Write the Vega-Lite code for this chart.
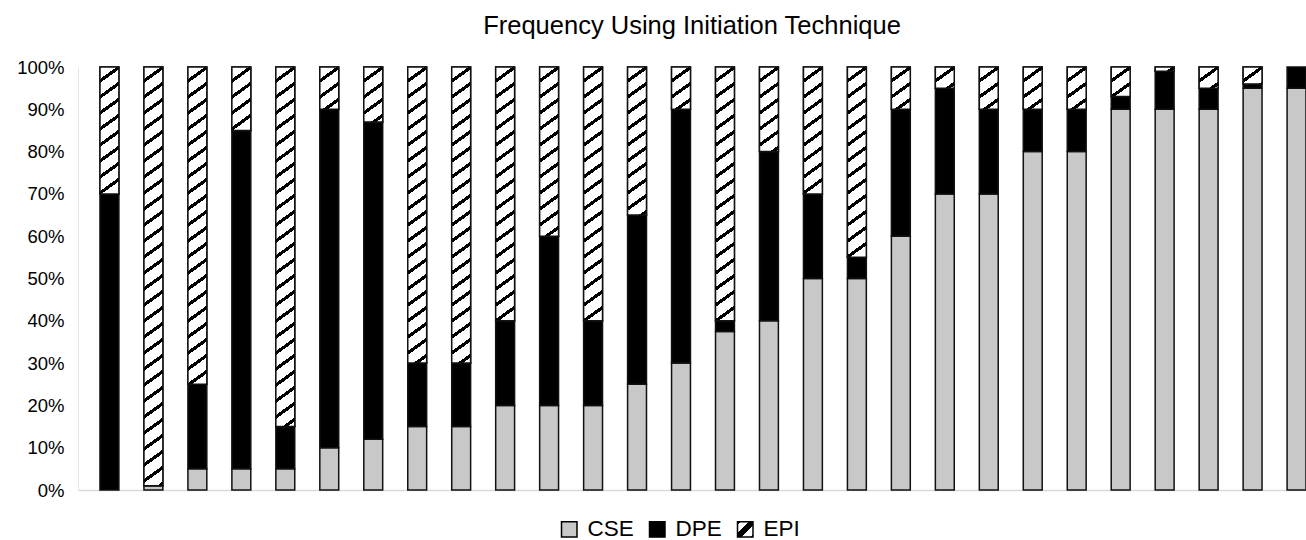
{
  "$schema": "https://vega.github.io/schema/vega-lite/v6.json",
  "width": 1228,
  "height": 423,
  "autosize": "none",
  "padding": {"left": 78, "top": 67, "right": 0, "bottom": 50},
  "background": "white",
  "title": {
    "text": "Frequency Using Initiation Technique",
    "font": "Liberation Sans",
    "fontSize": 25.5,
    "fontWeight": "normal",
    "color": "#000",
    "anchor": "middle",
    "baseline": "bottom",
    "offset": -6
  },
  "params": [
    {
      "name": "hatchStops",
      "value": [
        {"offset":0,"color":"#fff"},{"offset":0.025,"color":"#fff"},{"offset":0.025,"color":"#000"},{"offset":0.0333,"color":"#000"},
        {"offset":0.0333,"color":"#fff"},{"offset":0.0584,"color":"#fff"},{"offset":0.0584,"color":"#000"},{"offset":0.0667,"color":"#000"},
        {"offset":0.0667,"color":"#fff"},{"offset":0.0917,"color":"#fff"},{"offset":0.0917,"color":"#000"},{"offset":0.1,"color":"#000"},
        {"offset":0.1,"color":"#fff"},{"offset":0.125,"color":"#fff"},{"offset":0.125,"color":"#000"},{"offset":0.1333,"color":"#000"},
        {"offset":0.1333,"color":"#fff"},{"offset":0.1584,"color":"#fff"},{"offset":0.1584,"color":"#000"},{"offset":0.1667,"color":"#000"},
        {"offset":0.1667,"color":"#fff"},{"offset":0.1917,"color":"#fff"},{"offset":0.1917,"color":"#000"},{"offset":0.2,"color":"#000"},
        {"offset":0.2,"color":"#fff"},{"offset":0.225,"color":"#fff"},{"offset":0.225,"color":"#000"},{"offset":0.2333,"color":"#000"},
        {"offset":0.2333,"color":"#fff"},{"offset":0.2584,"color":"#fff"},{"offset":0.2584,"color":"#000"},{"offset":0.2667,"color":"#000"},
        {"offset":0.2667,"color":"#fff"},{"offset":0.2917,"color":"#fff"},{"offset":0.2917,"color":"#000"},{"offset":0.3,"color":"#000"},
        {"offset":0.3,"color":"#fff"},{"offset":0.325,"color":"#fff"},{"offset":0.325,"color":"#000"},{"offset":0.3333,"color":"#000"},
        {"offset":0.3333,"color":"#fff"},{"offset":0.3584,"color":"#fff"},{"offset":0.3584,"color":"#000"},{"offset":0.3667,"color":"#000"},
        {"offset":0.3667,"color":"#fff"},{"offset":0.3917,"color":"#fff"},{"offset":0.3917,"color":"#000"},{"offset":0.4,"color":"#000"},
        {"offset":0.4,"color":"#fff"},{"offset":0.425,"color":"#fff"},{"offset":0.425,"color":"#000"},{"offset":0.4333,"color":"#000"},
        {"offset":0.4333,"color":"#fff"},{"offset":0.4584,"color":"#fff"},{"offset":0.4584,"color":"#000"},{"offset":0.4667,"color":"#000"},
        {"offset":0.4667,"color":"#fff"},{"offset":0.4917,"color":"#fff"},{"offset":0.4917,"color":"#000"},{"offset":0.5,"color":"#000"},
        {"offset":0.5,"color":"#fff"},{"offset":0.525,"color":"#fff"},{"offset":0.525,"color":"#000"},{"offset":0.5333,"color":"#000"},
        {"offset":0.5333,"color":"#fff"},{"offset":0.5584,"color":"#fff"},{"offset":0.5584,"color":"#000"},{"offset":0.5667,"color":"#000"},
        {"offset":0.5667,"color":"#fff"},{"offset":0.5917,"color":"#fff"},{"offset":0.5917,"color":"#000"},{"offset":0.6,"color":"#000"},
        {"offset":0.6,"color":"#fff"},{"offset":0.625,"color":"#fff"},{"offset":0.625,"color":"#000"},{"offset":0.6333,"color":"#000"},
        {"offset":0.6333,"color":"#fff"},{"offset":0.6584,"color":"#fff"},{"offset":0.6584,"color":"#000"},{"offset":0.6667,"color":"#000"},
        {"offset":0.6667,"color":"#fff"},{"offset":0.6917,"color":"#fff"},{"offset":0.6917,"color":"#000"},{"offset":0.7,"color":"#000"},
        {"offset":0.7,"color":"#fff"},{"offset":0.725,"color":"#fff"},{"offset":0.725,"color":"#000"},{"offset":0.7333,"color":"#000"},
        {"offset":0.7333,"color":"#fff"},{"offset":0.7584,"color":"#fff"},{"offset":0.7584,"color":"#000"},{"offset":0.7667,"color":"#000"},
        {"offset":0.7667,"color":"#fff"},{"offset":0.7917,"color":"#fff"},{"offset":0.7917,"color":"#000"},{"offset":0.8,"color":"#000"},
        {"offset":0.8,"color":"#fff"},{"offset":0.825,"color":"#fff"},{"offset":0.825,"color":"#000"},{"offset":0.8333,"color":"#000"},
        {"offset":0.8333,"color":"#fff"},{"offset":0.8584,"color":"#fff"},{"offset":0.8584,"color":"#000"},{"offset":0.8667,"color":"#000"},
        {"offset":0.8667,"color":"#fff"},{"offset":0.8917,"color":"#fff"},{"offset":0.8917,"color":"#000"},{"offset":0.9,"color":"#000"},
        {"offset":0.9,"color":"#fff"},{"offset":0.925,"color":"#fff"},{"offset":0.925,"color":"#000"},{"offset":0.9333,"color":"#000"},
        {"offset":0.9333,"color":"#fff"},{"offset":0.9584,"color":"#fff"},{"offset":0.9584,"color":"#000"},{"offset":0.9667,"color":"#000"},
        {"offset":0.9667,"color":"#fff"},{"offset":0.9917,"color":"#fff"},{"offset":0.9917,"color":"#000"},{"offset":1,"color":"#000"}
      ]
    }
  ],
  "data": {
    "values": [
      {"bar": 1, "Technique": "CSE", "pct": 0}, {"bar": 1, "Technique": "DPE", "pct": 70}, {"bar": 1, "Technique": "EPI", "pct": 30},
      {"bar": 2, "Technique": "CSE", "pct": 1}, {"bar": 2, "Technique": "DPE", "pct": 0}, {"bar": 2, "Technique": "EPI", "pct": 99},
      {"bar": 3, "Technique": "CSE", "pct": 5}, {"bar": 3, "Technique": "DPE", "pct": 20}, {"bar": 3, "Technique": "EPI", "pct": 75},
      {"bar": 4, "Technique": "CSE", "pct": 5}, {"bar": 4, "Technique": "DPE", "pct": 80}, {"bar": 4, "Technique": "EPI", "pct": 15},
      {"bar": 5, "Technique": "CSE", "pct": 5}, {"bar": 5, "Technique": "DPE", "pct": 10}, {"bar": 5, "Technique": "EPI", "pct": 85},
      {"bar": 6, "Technique": "CSE", "pct": 10}, {"bar": 6, "Technique": "DPE", "pct": 80}, {"bar": 6, "Technique": "EPI", "pct": 10},
      {"bar": 7, "Technique": "CSE", "pct": 12}, {"bar": 7, "Technique": "DPE", "pct": 75}, {"bar": 7, "Technique": "EPI", "pct": 13},
      {"bar": 8, "Technique": "CSE", "pct": 15}, {"bar": 8, "Technique": "DPE", "pct": 15}, {"bar": 8, "Technique": "EPI", "pct": 70},
      {"bar": 9, "Technique": "CSE", "pct": 15}, {"bar": 9, "Technique": "DPE", "pct": 15}, {"bar": 9, "Technique": "EPI", "pct": 70},
      {"bar": 10, "Technique": "CSE", "pct": 20}, {"bar": 10, "Technique": "DPE", "pct": 20}, {"bar": 10, "Technique": "EPI", "pct": 60},
      {"bar": 11, "Technique": "CSE", "pct": 20}, {"bar": 11, "Technique": "DPE", "pct": 40}, {"bar": 11, "Technique": "EPI", "pct": 40},
      {"bar": 12, "Technique": "CSE", "pct": 20}, {"bar": 12, "Technique": "DPE", "pct": 20}, {"bar": 12, "Technique": "EPI", "pct": 60},
      {"bar": 13, "Technique": "CSE", "pct": 25}, {"bar": 13, "Technique": "DPE", "pct": 40}, {"bar": 13, "Technique": "EPI", "pct": 35},
      {"bar": 14, "Technique": "CSE", "pct": 30}, {"bar": 14, "Technique": "DPE", "pct": 60}, {"bar": 14, "Technique": "EPI", "pct": 10},
      {"bar": 15, "Technique": "CSE", "pct": 37.5}, {"bar": 15, "Technique": "DPE", "pct": 2.5}, {"bar": 15, "Technique": "EPI", "pct": 60},
      {"bar": 16, "Technique": "CSE", "pct": 40}, {"bar": 16, "Technique": "DPE", "pct": 40}, {"bar": 16, "Technique": "EPI", "pct": 20},
      {"bar": 17, "Technique": "CSE", "pct": 50}, {"bar": 17, "Technique": "DPE", "pct": 20}, {"bar": 17, "Technique": "EPI", "pct": 30},
      {"bar": 18, "Technique": "CSE", "pct": 50}, {"bar": 18, "Technique": "DPE", "pct": 5}, {"bar": 18, "Technique": "EPI", "pct": 45},
      {"bar": 19, "Technique": "CSE", "pct": 60}, {"bar": 19, "Technique": "DPE", "pct": 30}, {"bar": 19, "Technique": "EPI", "pct": 10},
      {"bar": 20, "Technique": "CSE", "pct": 70}, {"bar": 20, "Technique": "DPE", "pct": 25}, {"bar": 20, "Technique": "EPI", "pct": 5},
      {"bar": 21, "Technique": "CSE", "pct": 70}, {"bar": 21, "Technique": "DPE", "pct": 20}, {"bar": 21, "Technique": "EPI", "pct": 10},
      {"bar": 22, "Technique": "CSE", "pct": 80}, {"bar": 22, "Technique": "DPE", "pct": 10}, {"bar": 22, "Technique": "EPI", "pct": 10},
      {"bar": 23, "Technique": "CSE", "pct": 80}, {"bar": 23, "Technique": "DPE", "pct": 10}, {"bar": 23, "Technique": "EPI", "pct": 10},
      {"bar": 24, "Technique": "CSE", "pct": 90}, {"bar": 24, "Technique": "DPE", "pct": 3}, {"bar": 24, "Technique": "EPI", "pct": 7},
      {"bar": 25, "Technique": "CSE", "pct": 90}, {"bar": 25, "Technique": "DPE", "pct": 9}, {"bar": 25, "Technique": "EPI", "pct": 1},
      {"bar": 26, "Technique": "CSE", "pct": 90}, {"bar": 26, "Technique": "DPE", "pct": 5}, {"bar": 26, "Technique": "EPI", "pct": 5},
      {"bar": 27, "Technique": "CSE", "pct": 95}, {"bar": 27, "Technique": "DPE", "pct": 1}, {"bar": 27, "Technique": "EPI", "pct": 4},
      {"bar": 28, "Technique": "CSE", "pct": 95}, {"bar": 28, "Technique": "DPE", "pct": 5}, {"bar": 28, "Technique": "EPI", "pct": 0}
    ]
  },
  "transform": [
    {"stack": "pct", "groupby": ["bar"], "sort": [{"field": "Technique", "order": "ascending"}], "as": ["y0", "y1"]},
    {"filter": "datum.pct > 0"}
  ],
  "encoding": {
    "x": {
      "field": "bar",
      "type": "ordinal",
      "scale": {"paddingInner": 0.57, "paddingOuter": 0.25, "align": 1},
      "axis": {"title": null, "labels": false, "ticks": false, "domain": true, "domainColor": "#d9d9d9", "domainWidth": 1.5}
    },
    "y": {
      "field": "y0",
      "type": "quantitative",
      "scale": {"domain": [0, 100], "nice": false},
      "axis": {
        "title": null,
        "values": [0, 10, 20, 30, 40, 50, 60, 70, 80, 90, 100],
        "labelExpr": "datum.value + '%'",
        "ticks": false,
        "grid": false,
        "domain": true,
        "domainColor": "#e6e6e6",
        "labelFont": "Liberation Sans",
        "labelFontSize": 18.5,
        "labelColor": "#000",
        "labelPadding": 14
      }
    },
    "y2": {"field": "y1"}
  },
  "layer": [
    {
      "mark": {"type": "bar", "stroke": "#111", "strokeWidth": 1.5},
      "encoding": {
        "color": {
          "field": "Technique",
          "type": "nominal",
          "scale": {
            "domain": ["CSE", "DPE", "EPI"],
            "range": [
              "#c8c8c8",
              "#000000",
              {"expr": "{gradient:'linear',x1:0,y1:0,x2:1,y2:1,stops:[{offset:0,color:'#000'},{offset:0.1,color:'#000'},{offset:0.1,color:'#fff'},{offset:0.37,color:'#fff'},{offset:0.37,color:'#000'},{offset:0.63,color:'#000'},{offset:0.63,color:'#fff'},{offset:0.9,color:'#fff'},{offset:0.9,color:'#000'},{offset:1,color:'#000'}]}"}
            ]
          },
          "legend": {
            "title": null,
            "orient": "none",
            "direction": "horizontal",
            "legendX": 480,
            "legendY": 451,
            "symbolType": "square",
            "symbolSize": 240,
            "symbolStrokeColor": "#000",
            "symbolStrokeWidth": 1.5,
            "labelFont": "Liberation Sans",
            "labelFontSize": 22.5,
            "labelColor": "#000",
            "labelOffset": 7,
            "columnPadding": 12
          }
        }
      }
    },
    {
      "transform": [{"filter": "datum.Technique === 'EPI'"}],
      "mark": {
        "type": "bar",
        "stroke": "#111",
        "strokeWidth": 1.5,
        "fill": {"expr": "{gradient:'linear', x1:0, y1:0, x2: 480*0.72*bandwidth('x')/(0.5184*bandwidth('x')*bandwidth('x') + pow(scale('y',datum.y0)-scale('y',datum.y1),2)), y2: 480*(scale('y',datum.y0)-scale('y',datum.y1))/(0.5184*bandwidth('x')*bandwidth('x') + pow(scale('y',datum.y0)-scale('y',datum.y1),2)), stops: hatchStops}"}
      }
    }
  ],
  "config": {
    "view": {"stroke": null}
  }
}
